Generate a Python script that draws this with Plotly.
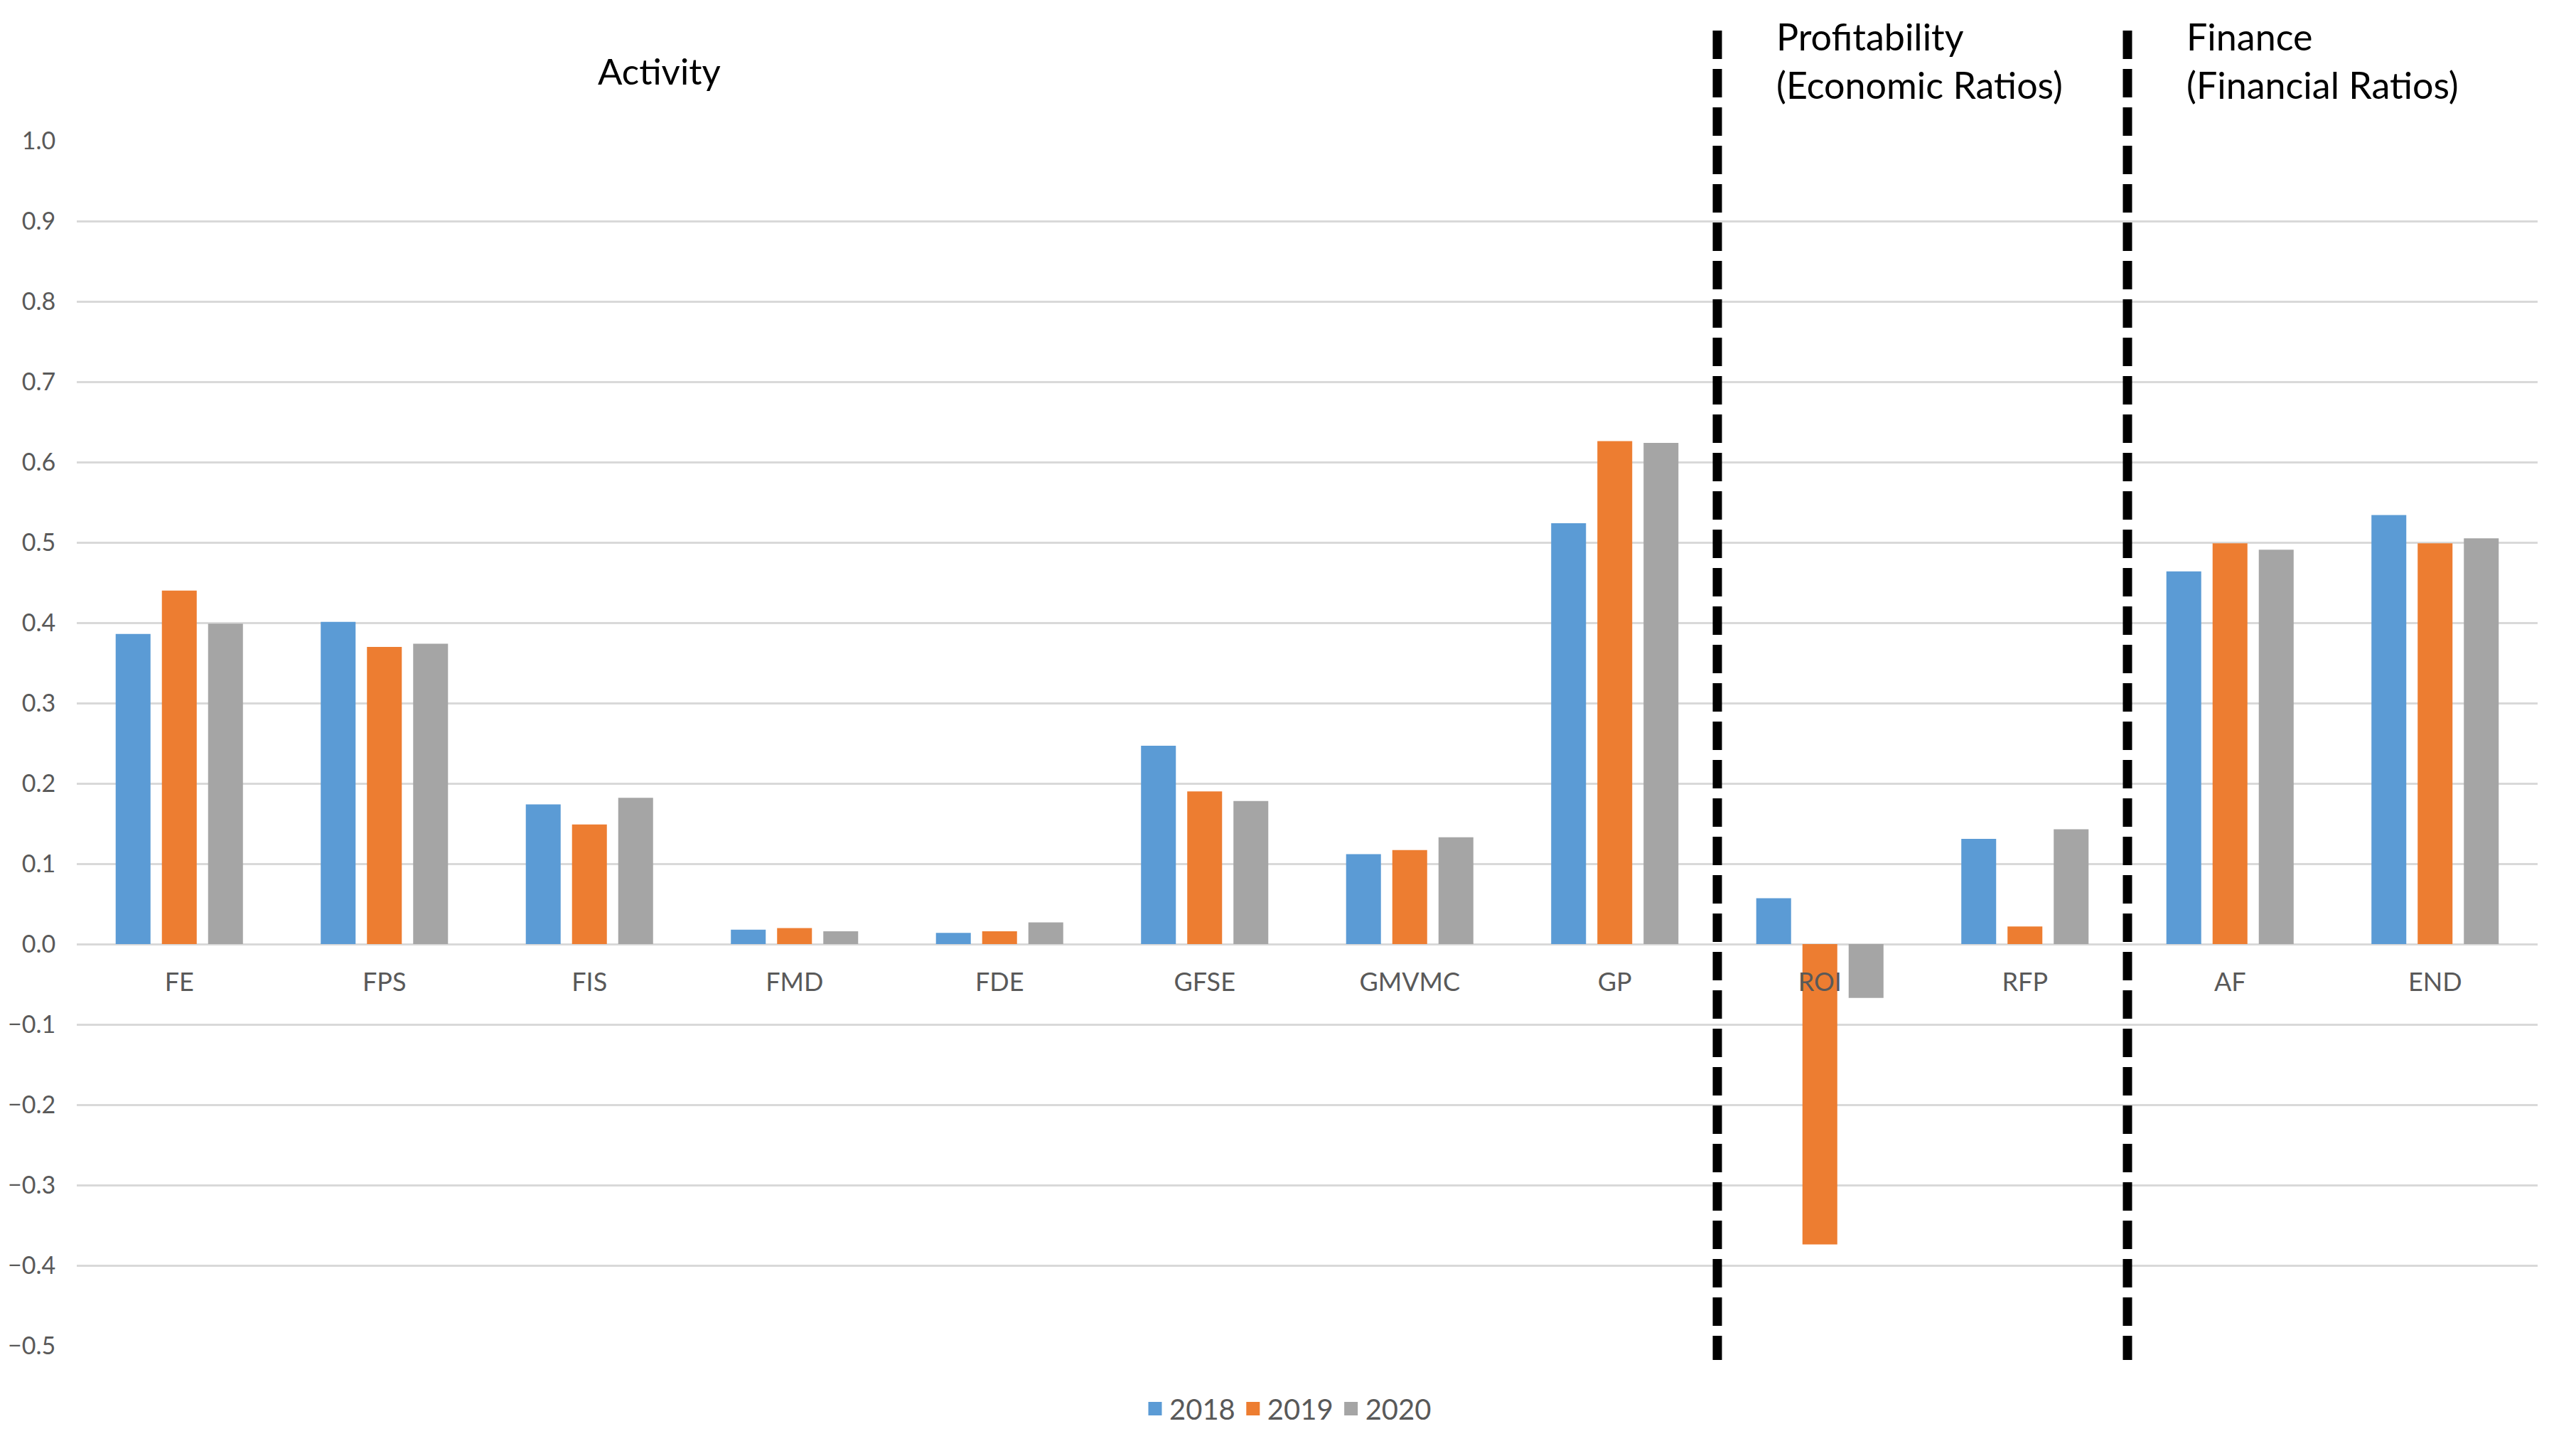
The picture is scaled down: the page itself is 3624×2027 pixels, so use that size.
import plotly.graph_objects as go

categories = ["FE", "FPS", "FIS", "FMD", "FDE", "GFSE", "GMVMC", "GP", "ROI", "RFP", "AF", "END"]
years = ["2018", "2019", "2020"]
v2018 = [0.386, 0.401, 0.174, 0.018, 0.014, 0.247, 0.112, 0.524, 0.057, 0.131, 0.464, 0.534]
v2019 = [0.440, 0.370, 0.149, 0.020, 0.016, 0.190, 0.117, 0.626, -0.374, 0.022, 0.499, 0.499]
v2020 = [0.399, 0.374, 0.182, 0.016, 0.027, 0.178, 0.133, 0.624, -0.067, 0.143, 0.491, 0.505]
colors = ["#5B9BD5", "#ED7D31", "#A5A5A5"]

group_names = ["Activity", "Profitability<br>(Economic Ratios)", "Finance<br>(Financial Ratios)"]
group_sizes = [8, 2, 2]

ytick_vals = [-0.5, -0.4, -0.3, -0.2, -0.1, 0.0, 0.1, 0.2, 0.3, 0.4, 0.5, 0.6, 0.7, 0.8, 0.9, 1.0]

FONT = "Lato"
W, H = 3624, 2027
ml, mr, mt, mb = 108, 54, 198, 134

fig = go.Figure()
for name, vals, c in zip(years, [v2018, v2019, v2020], colors):
    fig.add_trace(go.Bar(x=categories, y=vals, name=name, showlegend=False,
                         marker=dict(color=c, line=dict(width=0))))
# legend entries (square swatches)
for name, c in zip(years, colors):
    fig.add_trace(go.Scatter(x=[None], y=[None], mode="markers", name=name,
                             marker=dict(symbol="square", size=16, color=c,
                                         line=dict(color=c, width=3))))

# divider lines between groups
cum = 0
for s in group_sizes[:-1]:
    cum += s
    fig.add_shape(type="line", xref="x", yref="paper", x0=cum - 0.5, x1=cum - 0.5,
                  y0=1.0914, y1=-0.0118, line=dict(color="black", width=13, dash="40px,14px"))

# group annotations
fig.add_annotation(text=group_names[0], xref="paper", yref="paper", x=0.2366, y=1.058,
                   showarrow=False, xanchor="center", yanchor="middle",
                   font=dict(family=FONT, size=51, color="black"))
cum = 0
for i, s in enumerate(group_sizes):
    if i > 0:
        fig.add_annotation(text=group_names[i], xref="x", yref="paper", x=cum - 0.5 + 0.28, y=1.0667,
                           showarrow=False, xanchor="left", yanchor="middle", align="left",
                           font=dict(family=FONT, size=52, color="black"))
    cum += s

fig.update_layout(
    width=W, height=H,
    margin=dict(l=ml, r=mr, t=mt, b=mb, autoexpand=False),
    paper_bgcolor="white", plot_bgcolor="white",
    barmode="group", bargap=0.324, bargroupgap=0.246,
    font=dict(family=FONT, color="#595959"),
    legend=dict(orientation="h", xref="container", yref="container", x=0.5, y=0.0225,
                xanchor="center", yanchor="middle", font=dict(size=40, color="#595959"),
                itemwidth=30, traceorder="normal"),
    showlegend=True,
)
fig.update_xaxes(anchor="free", position=1/3, showgrid=False, showline=False, zeroline=False,
                 ticks="outside", ticklen=22, tickcolor="rgba(0,0,0,0)", automargin=False,
                 tickfont=dict(family=FONT, size=36, color="#595959"), layer="above traces")
fig.update_yaxes(range=[-0.5, 1.0], tickvals=ytick_vals, tickformat=".1f", automargin=False,
                 showgrid=True, gridcolor="#D9D9D9", gridwidth=3,
                 zeroline=True, zerolinecolor="#D9D9D9", zerolinewidth=3,
                 showline=False, ticks="outside", ticklen=22, tickcolor="rgba(0,0,0,0)",
                 tickfont=dict(family=FONT, size=34, color="#595959"))

fig.write_html("out.html", config={"displayModeBar": False},
               post_script="document.body.style.margin='0';document.body.style.overflow='hidden';")
